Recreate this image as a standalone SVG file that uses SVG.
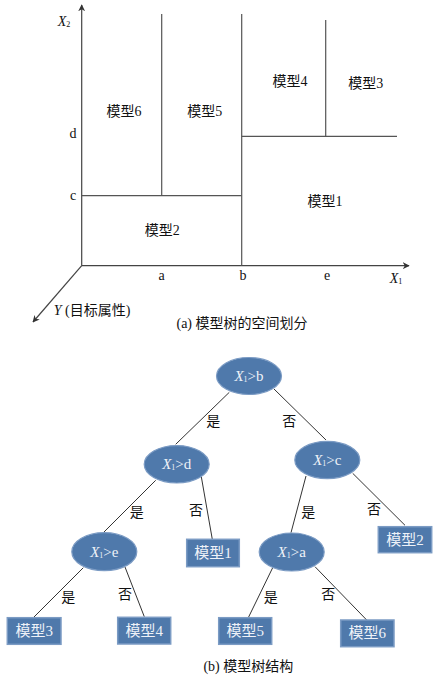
<svg xmlns="http://www.w3.org/2000/svg" width="442" height="682" viewBox="0 0 442 682">
<defs>
<marker id="ah" viewBox="0 0 10 10" refX="9" refY="5" markerWidth="7" markerHeight="7" orient="auto" markerUnits="userSpaceOnUse">
<path d="M0,0 L10,5 L0,10 L3,5 z" fill="#333"/>
</marker>
</defs>
<style>
.ax{stroke:#444;stroke-width:1.2;fill:none}
.ln{stroke:#555;stroke-width:1.2;fill:none}
.ed{stroke:#333;stroke-width:1;fill:none}
.t{font-family:"Liberation Serif","Noto Sans CJK SC",serif;font-size:14px;fill:#111;text-anchor:middle;dominant-baseline:central}
.it{font-style:italic}
.cap{font-family:"Liberation Serif","Noto Sans CJK SC",sans-serif;font-size:14px;fill:#111;text-anchor:middle;dominant-baseline:central}
.node{fill:#4f79ab;stroke:#7b9bc4;stroke-width:1.2}
.box{fill:#4f79ab;stroke:#7b9bc4;stroke-width:1.5}
.nt{font-family:"Liberation Serif","Noto Sans CJK SC",serif;font-size:15px;fill:#eef2f8;text-anchor:middle;dominant-baseline:central}
.lb{font-family:"Liberation Serif","Noto Sans CJK SC",serif;font-size:14px;fill:#111;text-anchor:middle;dominant-baseline:central}
</style>

<g id="partition">
<line class="ax" x1="81.7" y1="265.7" x2="81.7" y2="5" marker-end="url(#ah)"/>
<line class="ax" x1="81.7" y1="265.7" x2="409" y2="265.7" marker-end="url(#ah)"/>
<line class="ax" x1="81.7" y1="265.7" x2="33" y2="322" marker-end="url(#ah)"/>
<line class="ln" x1="161.7" y1="14" x2="161.7" y2="195.7"/>
<line class="ln" x1="241.7" y1="14" x2="241.7" y2="265.7"/>
<line class="ln" x1="81.7" y1="195.7" x2="241.7" y2="195.7"/>
<line class="ln" x1="241.7" y1="136.3" x2="397" y2="136.3"/>
<line class="ln" x1="325.7" y1="20" x2="325.7" y2="136.3"/>
<text class="t it" x="64" y="21">X<tspan font-size="8" font-style="normal" dy="3">2</tspan></text>
<text class="t" x="73" y="133">d</text>
<text class="t" x="73" y="195">c</text>
<text class="t" x="161.5" y="275">a</text>
<text class="t" x="243" y="275">b</text>
<text class="t" x="327" y="275">e</text>
<text class="t it" x="396" y="278">X<tspan font-size="8" font-style="normal" dy="3">1</tspan></text>
<text class="t" x="124" y="111">模型6</text>
<text class="t" x="204.7" y="111">模型5</text>
<text class="t" x="290" y="81.7">模型4</text>
<text class="t" x="365.7" y="83">模型3</text>
<text class="t" x="325" y="201">模型1</text>
<text class="t" x="162.3" y="230">模型2</text>
<text class="t" x="92" y="310"><tspan font-style="italic">Y</tspan> (目标属性)</text>
<text class="cap" x="242" y="323">(a) 模型树的空间划分</text>
</g>

<g id="connectors">
<line class="ed" x1="229.3" y1="392.3" x2="175.7" y2="444.3"/>
<line class="ed" x1="274" y1="389" x2="326" y2="440"/>
<line class="ed" x1="155.7" y1="480.3" x2="103.3" y2="532.7"/>
<line class="ed" x1="201.3" y1="476.7" x2="212.3" y2="539.3"/>
<line class="ed" x1="306" y1="476" x2="291" y2="532.7"/>
<line class="ed" x1="352.7" y1="473.3" x2="405" y2="525.3"/>
<line class="ed" x1="83.3" y1="567.7" x2="33.3" y2="617.7"/>
<line class="ed" x1="125" y1="567" x2="144.3" y2="616.7"/>
<line class="ed" x1="272.7" y1="567.7" x2="248.3" y2="617.7"/>
<line class="ed" x1="315" y1="566.7" x2="366.7" y2="620"/>
<text class="lb" x="213.3" y="421">是</text>
<text class="lb" x="289.3" y="421">否</text>
<text class="lb" x="136.7" y="512.3">是</text>
<text class="lb" x="196" y="510">否</text>
<text class="lb" x="308.3" y="512">是</text>
<text class="lb" x="374" y="509.3">否</text>
<text class="lb" x="68.3" y="597.7">是</text>
<text class="lb" x="125" y="594.3">否</text>
<text class="lb" x="270.7" y="597.7">是</text>
<text class="lb" x="328.3" y="594">否</text>
</g>

<g id="n-root">
<ellipse class="node" cx="249" cy="376" rx="32.5" ry="18.5"/>
<text class="nt" x="249" y="376"><tspan font-style="italic">X</tspan><tspan font-size="8" dy="3">1</tspan><tspan dy="-3">&gt;b</tspan></text>
</g>
<g id="n-d">
<ellipse class="node" cx="176.7" cy="464.3" rx="32.5" ry="18.7"/>
<text class="nt" x="176.7" y="464.3"><tspan font-style="italic">X</tspan><tspan font-size="8" dy="3">1</tspan><tspan dy="-3">&gt;d</tspan></text>
</g>
<g id="n-c">
<ellipse class="node" cx="327.3" cy="460" rx="32.5" ry="18.7"/>
<text class="nt" x="327.3" y="460"><tspan font-style="italic">X</tspan><tspan font-size="8" dy="3">1</tspan><tspan dy="-3">&gt;c</tspan></text>
</g>
<g id="n-e">
<ellipse class="node" cx="104.3" cy="551.7" rx="32.5" ry="19"/>
<text class="nt" x="104.3" y="551.7"><tspan font-style="italic">X</tspan><tspan font-size="8" dy="3">1</tspan><tspan dy="-3">&gt;e</tspan></text>
</g>
<g id="n-a">
<ellipse class="node" cx="291.7" cy="552" rx="32.5" ry="19"/>
<text class="nt" x="291.7" y="552"><tspan font-style="italic">X</tspan><tspan font-size="8" dy="3">1</tspan><tspan dy="-3">&gt;a</tspan></text>
</g>
<g id="m1">
<rect class="box" x="186.7" y="539.3" width="52.6" height="27.4"/>
<text class="nt" x="213" y="553">模型1</text>
</g>
<g id="m2">
<rect class="box" x="378.3" y="526.7" width="53.4" height="26"/>
<text class="nt" x="405" y="539.7">模型2</text>
</g>
<g id="m3">
<rect class="box" x="7.3" y="617.7" width="53.7" height="26.6"/>
<text class="nt" x="34.2" y="631">模型3</text>
</g>
<g id="m4">
<rect class="box" x="117.7" y="617.3" width="53" height="26.7"/>
<text class="nt" x="144.2" y="630.7">模型4</text>
</g>
<g id="m5">
<rect class="box" x="218.7" y="617.7" width="53" height="26.6"/>
<text class="nt" x="245.2" y="631">模型5</text>
</g>
<g id="m6">
<rect class="box" x="340.7" y="620" width="53.3" height="26.7"/>
<text class="nt" x="367.3" y="633.3">模型6</text>
</g>
<text class="cap" x="248.3" y="666.7">(b) 模型树结构</text>
</svg>
